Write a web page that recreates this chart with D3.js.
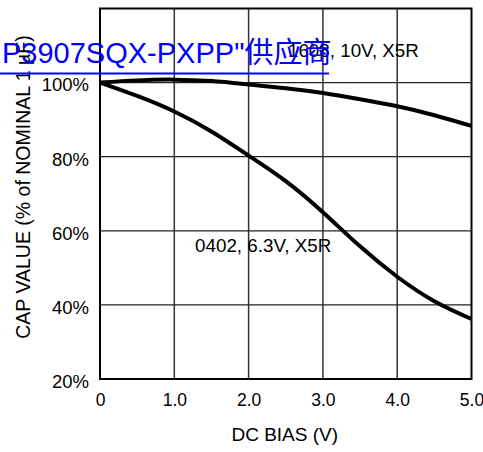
<!DOCTYPE html>
<html>
<head>
<meta charset="utf-8">
<script src="https://cdn.jsdelivr.net/npm/d3@7"></script>
<style>
  html, body { margin: 0; padding: 0; background: #fff; }
  svg { display: block; }
  text { font-family: "Liberation Sans", Arial, sans-serif; fill: #000; }
</style>
</head>
<body>
<svg id="chart" width="483" height="452"></svg>
<script>
// ---- data ----
const biasVolts = [0, 0.5, 1.0, 1.5, 2.0, 2.5, 3.0, 3.5, 4.0, 4.5, 5.0];
const cap1608 = [100, 100.6, 100.8, 100.4, 99.5, 98.5, 97.2, 95.5, 93.6, 91.2, 88.3];
const cap0402 = [100, 96.4, 92.2, 86.8, 80.3, 73.4, 65.0, 55.8, 47.6, 41.0, 36.2];
const seriesNames = ["1608, 10V, X5R", "0402, 6.3V, X5R"];
const xTicks = [0, 1, 2, 3, 4, 5];
const yTicks = [20, 40, 60, 80, 100, 120];
const yTickLabels = ["20%", "40%", "60%", "80%", "100%", ""];
const xTitle = "DC BIAS (V)";
const yTitle = "CAP VALUE (% of NOMINAL 1 µF)";
const watermark = "P3907SQX-PXPP\"供应商";

// ---- layout ----
const svg = d3.select("#chart");
const L = 100, R = 471.5, T = 8.5, B = 379;
const x = d3.scaleLinear().domain([0, 5]).range([L, R]);
const y = d3.scaleLinear().domain([20, 120]).range([B, T]);

// grid
const grid = svg.append("g");
grid.selectAll("line.v").data(xTicks.slice(1, -1)).enter().append("line")
  .attr("x1", d => x(d)).attr("x2", d => x(d)).attr("y1", T).attr("y2", B)
  .attr("stroke", "#333").attr("stroke-width", 1.5);
grid.selectAll("line.h").data(yTicks.slice(1, -1)).enter().append("line")
  .attr("y1", d => y(d)).attr("y2", d => y(d)).attr("x1", L).attr("x2", R)
  .attr("stroke", "#222").attr("stroke-width", 1.3);

// axes (labels only, via d3 axes)
const yAxis = d3.axisLeft(y).tickValues(yTicks.slice(0, -1))
  .tickFormat((d, i) => yTickLabels[i]).tickSize(0).tickPadding(11);
const gy = svg.append("g").attr("transform", `translate(${L},0)`).call(yAxis);
gy.select(".domain").remove();
gy.selectAll("text").attr("font-size", 18.5).attr("font-family", "Liberation Sans, Arial, sans-serif")
  .attr("dy", "0.45em").attr("fill", "#000");

const xAxis = d3.axisBottom(x).tickValues(xTicks)
  .tickFormat(d => d === 0 ? "0" : d3.format(".1f")(d)).tickSize(0).tickPadding(15);
const gx = svg.append("g").attr("transform", `translate(0,${B})`).call(xAxis);
gx.select(".domain").remove();
gx.selectAll("text").attr("font-size", 17.5).attr("font-family", "Liberation Sans, Arial, sans-serif")
  .attr("dy", "0.71em").attr("fill", "#000");

// frame
svg.append("rect").attr("x", L).attr("y", T).attr("width", R - L).attr("height", B - T)
  .attr("fill", "none").attr("stroke", "#000").attr("stroke-width", 2);

// curves
const line = d3.line().x((d, i) => x(biasVolts[i])).y(d => y(d)).curve(d3.curveNatural);
[cap1608, cap0402].forEach(s => {
  svg.append("path").datum(s).attr("d", line)
    .attr("fill", "none").attr("stroke", "#000").attr("stroke-width", 4)
    .attr("stroke-linecap", "butt").attr("stroke-linejoin", "round");
});

// series annotations
svg.append("text").attr("x", x(2.53)).attr("y", y(106.8)).attr("font-size", 18.8).text(seriesNames[0]);
svg.append("text").attr("x", x(1.28)).attr("y", y(54.4)).attr("font-size", 18.8).text(seriesNames[1]);

// axis titles
svg.append("text").attr("x", (L + R) / 2 - 1).attr("y", 441).attr("text-anchor", "middle")
  .attr("font-size", 19).text(xTitle);
svg.append("text").attr("transform", "translate(30,187) rotate(-90)").attr("text-anchor", "middle")
  .attr("font-size", 19.5).text(yTitle);

// watermark overlay
svg.append("text").attr("x", 2).attr("y", 63)
  .style("font-family", "\"Liberation Sans\", \"Noto Sans CJK SC\", sans-serif")
  .style("fill", "#0000ff").attr("font-size", 29).text(watermark);
svg.append("line").attr("x1", 0).attr("x2", 329).attr("y1", 73.5).attr("y2", 73.5)
  .attr("stroke", "#0000ff").attr("stroke-width", 2);
</script>
</body>
</html>
